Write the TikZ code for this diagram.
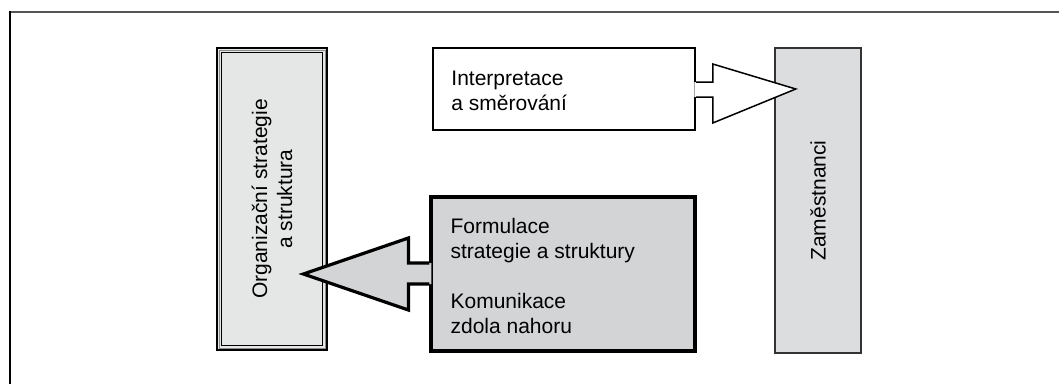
\documentclass[tikz,border=0pt]{standalone}
\usepackage{fontspec}
\setmainfont{Liberation Sans}
\usetikzlibrary{calc}
\definecolor{lightfill}{HTML}{E5E6E6}
\definecolor{midfill}{HTML}{D3D4D6}
\definecolor{rightfill}{HTML}{DCDDDF}
\definecolor{framegray}{HTML}{555555}
\definecolor{rightedge}{HTML}{333333}
\begin{document}
\begin{tikzpicture}[x=1pt,y=-1pt,
  txt/.style={font=\fontsize{21}{25}\selectfont, text=black},
  leftbox/.style={draw=black, line width=2.8pt, fill=lightfill, inner sep=0pt,
    minimum width=110pt, minimum height=302pt},
  topbox/.style={draw=black, line width=1.5pt, fill=white, inner sep=0pt,
    minimum width=262pt, minimum height=82pt},
  botbox/.style={draw=black, line width=3.2pt, fill=midfill, inner sep=0pt,
    minimum width=264pt, minimum height=154pt},
  rightbox/.style={draw=rightedge, line width=1.8pt, fill=rightfill, inner sep=0pt,
    minimum width=86pt, minimum height=305pt},
  lbl/.style={txt, align=left, inner sep=0pt, anchor=north west},
  vlbl/.style={txt, align=center, inner sep=0pt, rotate=90},
]
\useasboundingbox (0,0) rectangle (1059,384);

% outer frame (top and left edges)
\draw[framegray, line width=2pt] (10,12) -- (1059,12);
\draw[black, line width=2pt] (10,11) -- (10,384);

% right box
\node[rightbox] (R) at (818,200.5) {};
\node[vlbl] (Rt) at (R.center) {Zaměstnanci};

% top box and arrow
\node[topbox] (T) at (564,89) {};
\node[lbl] (Tt) at ($(T.north west)+(19,24)$) {Interpretace\\a směrování};
\fill[white] ($(T.east)+(-1.5,-7)$) -- ($(T.east)+(17,-7)$) -- ($(T.east)+(17,-25)$)
  -- ($(T.east)+(100,0)$) -- ($(T.east)+(17,34)$) -- ($(T.east)+(17,8)$)
  -- ($(T.east)+(-1.5,8)$) -- cycle;
\draw[black, line width=1.5pt, line join=miter] ($(T.east)+(0,-7)$) -- ($(T.east)+(17,-7)$) -- ($(T.east)+(17,-25)$)
  -- ($(T.east)+(100,0)$) coordinate (Ttip) -- ($(T.east)+(17,34)$) -- ($(T.east)+(17,8)$)
  -- ($(T.east)+(0,8)$);

% left box with triple border
\node[leftbox] (L) at (272,199) {};
\draw[black!45, line width=0.8pt] ($(L.north west)+(3.4,3.4)$) rectangle ($(L.south east)+(-3.4,-3.4)$);
\draw[black, line width=1.6pt] ($(L.north west)+(6,6)$) rectangle ($(L.south east)+(-6,-6)$);
\node[vlbl] (Lt) at (L.center) {Organizační strategie\\a struktura};

% bottom box and arrow
\node[botbox] (B) at (563,274) {};
\node[lbl] (Bt) at ($(B.north west)+(21,23)$) {Formulace\\strategie a struktury\\[25pt]Komunikace\\zdola nahoru};
\fill[midfill] ($(B.west)+(2,-11)$) -- ($(B.west)+(-21,-11)$) -- ($(B.west)+(-21,-36)$)
  -- ($(B.west)+(-126,0)$) -- ($(B.west)+(-21,36)$) -- ($(B.west)+(-21,10)$)
  -- ($(B.west)+(2,10)$) -- cycle;
\draw[black, line width=3.2pt, line join=miter] ($(B.west)+(0,-11)$) -- ($(B.west)+(-21,-11)$) -- ($(B.west)+(-21,-36)$)
  -- ($(B.west)+(-126,0)$) coordinate (Btip) -- ($(B.west)+(-21,36)$) -- ($(B.west)+(-21,10)$)
  -- ($(B.west)+(0,10)$);
\end{tikzpicture}
\end{document}
